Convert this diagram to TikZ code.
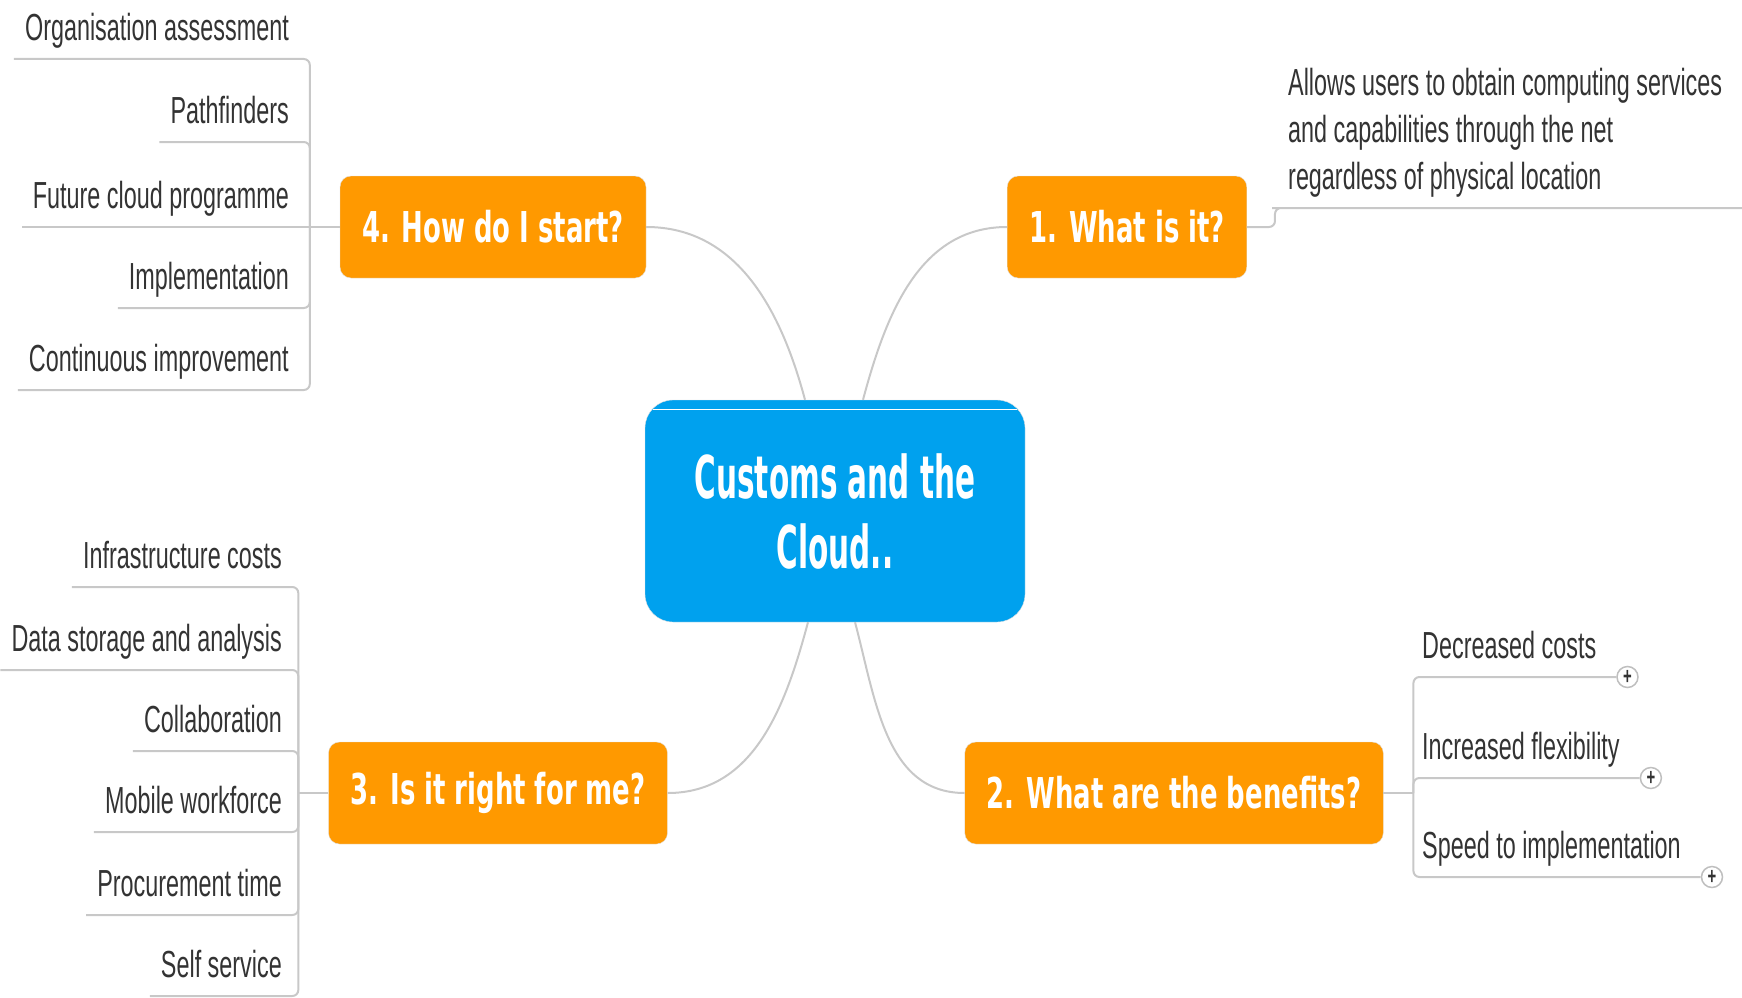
\documentclass[tikz,border=0pt]{standalone}
\usepackage{fontspec}
\setmainfont{Liberation Sans}[FakeStretch=0.62]
\newfontfamily\topicfont{DejaVu Sans}[FakeStretch=0.61]
\newfontfamily\rootfont{DejaVu Sans}[FakeStretch=0.5]
\definecolor{rootblue}{RGB}{0,161,238}
\definecolor{topicorange}{RGB}{255,153,0}
\definecolor{branchgrey}{RGB}{200,200,200}
\definecolor{leafgrey}{RGB}{51,51,51}

\begin{document}
\begin{tikzpicture}[x=1pt, y=1pt,
            root node/.style={rectangle, rounded corners=28pt, fill=rootblue, draw=black!12, text=white, minimum width=380pt, minimum height=222pt, align=center, font=\rootfont\bfseries\fontsize{59}{70}\selectfont},
            topic node/.style={rectangle, rounded corners=11pt, fill=topicorange, draw=black!12, text=white, minimum height=102pt, inner xsep=22pt, font=\topicfont\bfseries\fontsize{42.5}{50}\selectfont},
            leaf node/.style={inner xsep=11pt, inner ysep=18pt, text depth=0pt, text=leafgrey, font=\fontsize{37.7}{47}\selectfont},
            plus node/.style={circle, draw=black!25, line width=1.5pt, fill=white, minimum size=21pt, inner sep=0pt, text=leafgrey, font=\bfseries\fontsize{24}{24}\selectfont},
            branch/.style={draw=branchgrey, line width=2pt, rounded corners=6pt},
            link/.style={draw=branchgrey, line width=2pt}]
            \useasboundingbox (0,0) rectangle (1742,-998);

              % centre and the four questions
              \node[root node] (root) at (835,-511) {Customs and the\\Cloud..};
              \draw[white, line width=0.8pt] ([shift={(8,-10)}]root.north west) -- ([shift={(-8,-10)}]root.north east);
              \node[topic node] (q4) at (493,-227) {4. How do I start?};
              \node[topic node] (q1) at (1127,-227) {1. What is it?};
              \node[topic node] (q3) at (498,-793) {3. Is it right for me?};
              \node[topic node] (q2) at (1174,-793) {2. What are the benefits?};

              \coordinate (rt4) at ([xshift=-30pt]root.north);
              \coordinate (rt1) at ([xshift=28pt]root.north);
              \coordinate (rb3) at ([xshift=-27pt]root.south);
              \coordinate (rb2) at ([xshift=20pt]root.south);

              \path[link]
                (q4) edge[out=0, in=105] (rt4)
                (q1) edge[out=180, in=75] (rt1)
                (q3) edge[out=0, in=-105] (rb3)
                (q2) edge[out=180, in=-75] (rb2);

              % 1. what is it
              \coordinate (j1) at ([xshift=28pt]q1.east);
              \coordinate (e1) at (1742,-208);
              \node[leaf node, inner xsep=10pt, align=left, anchor=south west] (d1) at (1278,-208)
                {Allows users to obtain computing services\\and capabilities through the net\\regardless of physical location};
              \draw[branch] (q1) -- (j1) |- (d1.south west) -- (e1);

              % 2. benefits
              \coordinate (j2) at ([xshift=30pt]q2.east);
              \node[leaf node, anchor=south west] (b1) at (1411,-677) {Decreased costs};
              \node[leaf node, anchor=south west] (b2) at (1411,-778) {Increased flexibility};
              \node[leaf node, anchor=south west] (b3) at (1411,-877) {Speed to implementation};
              \draw[link] (q2) -- (j2);
              \foreach \b in {b1,b2,b3} {
                \node[plus node] (p\b) at ([xshift=20pt]\b.south east) {+};
                \draw[branch] (j2) |- (p\b);
              }

              % 3. is it right for me
              \coordinate (j3) at ([xshift=-30pt]q3.west);
              \node[leaf node, anchor=south east] (r1) at (293,-587) {Infrastructure costs};
              \node[leaf node, anchor=south east] (r2) at (293,-670) {Data storage and analysis};
              \node[leaf node, anchor=south east] (r3) at (293,-751) {Collaboration};
              \node[leaf node, anchor=south east] (r4) at (293,-832) {Mobile workforce};
              \node[leaf node, anchor=south east] (r5) at (293,-915) {Procurement time};
              \node[leaf node, anchor=south east] (r6) at (293,-996) {Self service};
              \draw[link] (q3) -- (j3);
              \foreach \r in {r1,r2,r3,r4,r5,r6}
                \draw[branch] (j3) |- (\r.south west);

              % 4. how do I start
              \coordinate (j4) at ([xshift=-30pt]q4.west);
              \node[leaf node, anchor=south east] (s1) at (300,-59) {Organisation assessment};
              \node[leaf node, anchor=south east] (s2) at (300,-142) {Pathfinders};
              \node[leaf node, anchor=south east] (s3) at (300,-227) {Future cloud programme};
              \node[leaf node, anchor=south east] (s4) at (300,-308) {Implementation};
              \node[leaf node, anchor=south east] (s5) at (300,-390) {Continuous improvement};
              \draw[link] (q4) -- (j4);
              \foreach \s in {s1,s2,s4,s5}
                \draw[branch] (j4) |- (\s.south west);
              \draw[branch] (j4) -- (s3.south west);

            \end{tikzpicture}
\end{document}
